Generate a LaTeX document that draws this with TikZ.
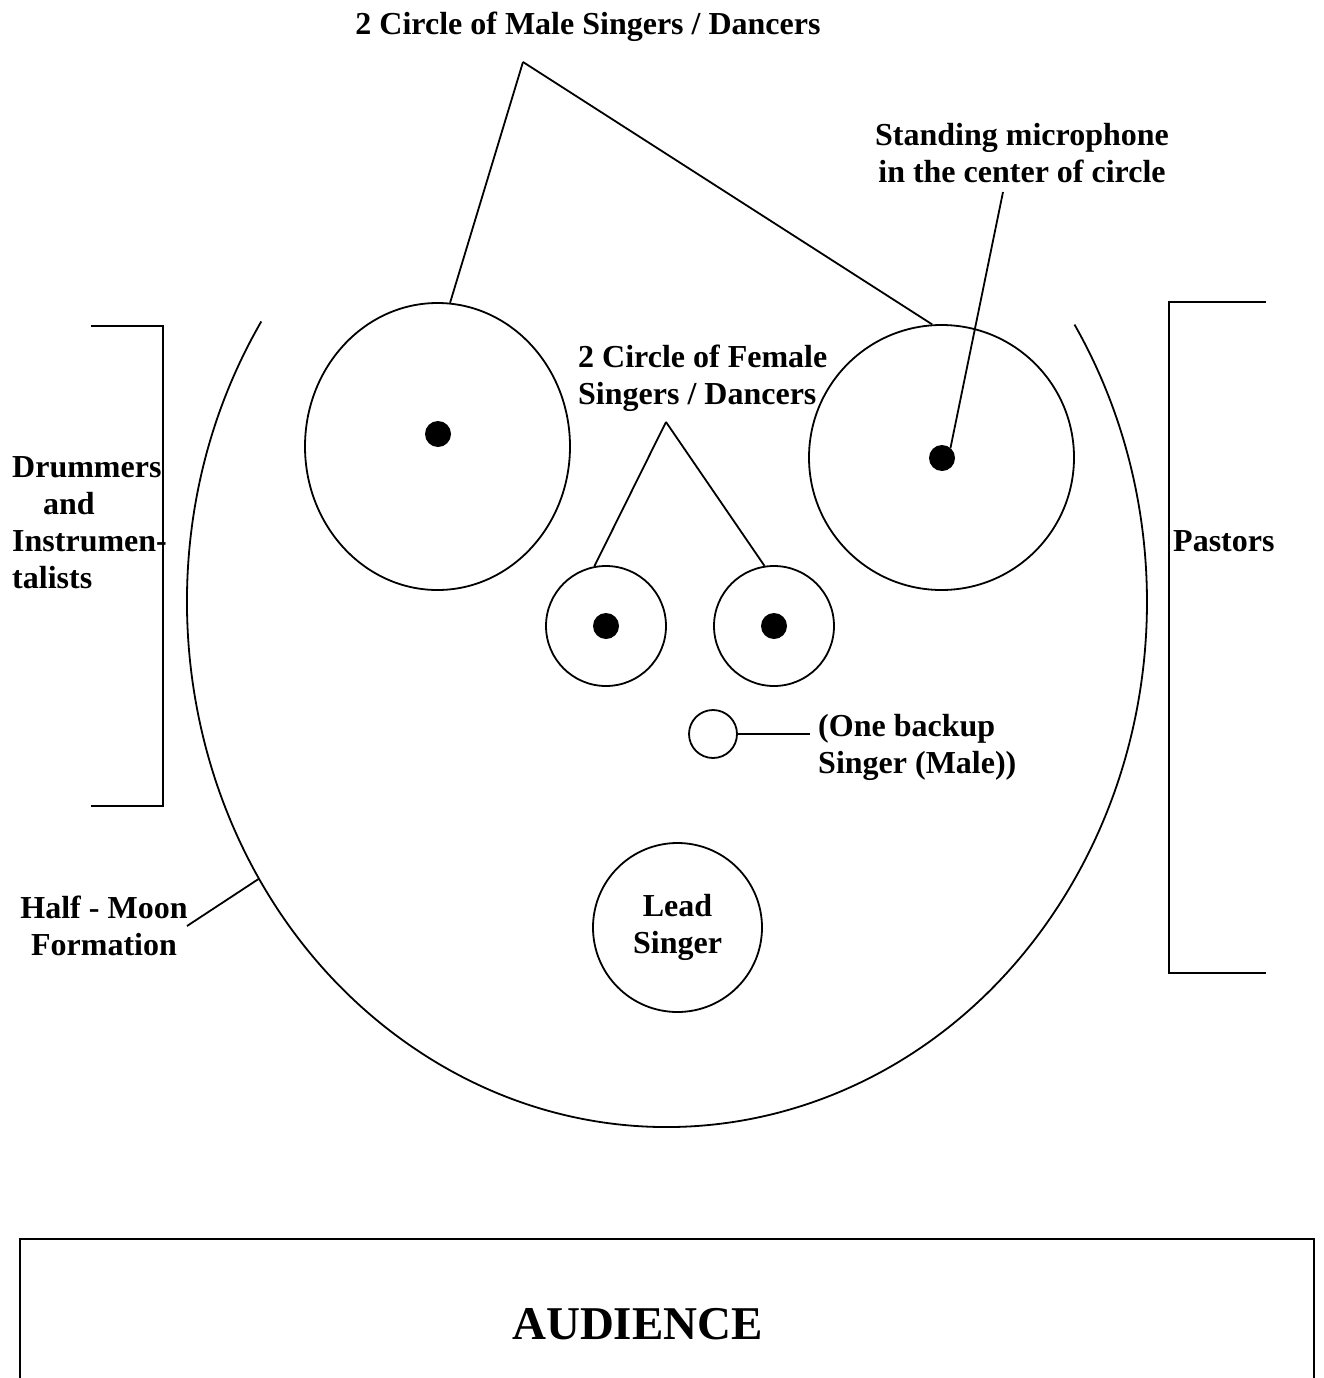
\documentclass[tikz,border=0pt]{standalone}
\usepackage{fontspec}
\setmainfont{Liberation Serif}
\usetikzlibrary{shapes.geometric,calc}
\newcommand\lblfont{\fontsize{32}{37}\selectfont\bfseries}
\newcommand\bigfont{\fontsize{47}{54}\selectfont\bfseries}
\tikzset{
  line/.style={line width=1.8pt},
  ring/.style={draw, line width=1.8pt, circle, inner sep=0pt},
  oval/.style={draw, line width=1.8pt, ellipse, inner sep=0pt},
  mic/.style={fill=black, circle, inner sep=0pt, minimum size=26pt},
  lbl/.style={font=\lblfont, inner sep=0pt, anchor=base},
}
\begin{document}
\begin{tikzpicture}[x=1pt,y=-1pt]
\clip (0,0) rectangle (1324,1378);
\fill[white] (0,0) rectangle (1324,1378);

% half-moon formation
\coordinate (moonc) at (667,602);
\draw[line] ($(moonc)+(147.7:480pt and 525pt)$)
  arc[start angle=147.7, end angle=391.9, x radius=480pt, y radius=525pt];

% singer circles
\node[oval, minimum width=265pt, minimum height=287pt] (ml) at (437.5,446.5) {};
\node[ring, minimum size=265pt] (mr) at (941.5,457.5) {};
\node[ring, minimum size=120pt] (fl) at (606,626) {};
\node[ring, minimum size=120pt] (fr) at (774,626) {};
\node[ring, minimum size=48pt] (bk) at (713,734) {};
\node[ring, minimum size=169pt, font=\lblfont] (lead) at (677.5,927.5)
  {\begin{tabular}[t]{@{}c@{}}Lead\\Singer\end{tabular}};

% microphones
\node[mic] (mldot) at (438,434) {};
\node[mic] (mrdot) at (942,458) {};
\node[mic] (fldot) at (606,626) {};
\node[mic] (frdot) at (774,626) {};

% male circles label
\node[lbl] (maletitle) at (588,35) {2 Circle of Male Singers / Dancers};
\coordinate (maleapex) at (523,62);
\draw[line] (maleapex) -- (ml.85);
\draw[line] (maleapex) -- (mr.94);

% microphone label
\node[lbl] (miclabel) at (1022,146)
  {\begin{tabular}[t]{@{}c@{}}Standing microphone\\in the center of circle\end{tabular}};
\coordinate (micfoot) at (1003,192);
\draw[line] (micfoot) -- (mrdot.50);

% female circles label
\node[lbl, anchor=base west] (femlabel) at (578,367)
  {\begin{tabular}[t]{@{}l@{}}2 Circle of Female\\Singers / Dancers\end{tabular}};
\coordinate (femapex) at (666,422);
\draw[line] (femapex) -- (fl.101);
\draw[line] (femapex) -- (fr.99);

% backup singer
\node[lbl, anchor=base west] (bklabel) at (818,736)
  {\begin{tabular}[t]{@{}l@{}}(One backup\\Singer (Male))\end{tabular}};
\draw[line, shorten >=8pt] (bk.east) -- (bk.east -| bklabel.west);

% drummers
\node[lbl, anchor=base west] (drumlabel) at (12,477)
  {\begin{tabular}[t]{@{}l@{}}Drummers\\\hspace*{31pt}and\\Instrumen-\\talists\end{tabular}};
\draw[line] (91,326) -- (163,326) -- (163,806) -- (91,806);

% pastors
\node[lbl, anchor=base west] (pastors) at (1173,551) {Pastors};
\draw[line] (1266,302) -- (1169,302) -- (1169,973) -- (1266,973);

% half-moon label
\node[lbl] (moonlabel) at (104,918)
  {\begin{tabular}[t]{@{}c@{}}Half - Moon\\Formation\end{tabular}};
\coordinate (moonfoot) at (187,926);
\coordinate (moonpt) at ($(moonc)+(211.8:480pt and 525pt)$);
\draw[line] (moonfoot) -- (moonpt);

% audience
\node[draw, line width=1.8pt, minimum width=1294pt, minimum height=200pt,
      anchor=north west] (audbox) at (19,1238) {};
\node[font=\bigfont, inner sep=0pt, anchor=base] (audience) at (637.5,1339) {AUDIENCE};
\end{tikzpicture}
\end{document}
